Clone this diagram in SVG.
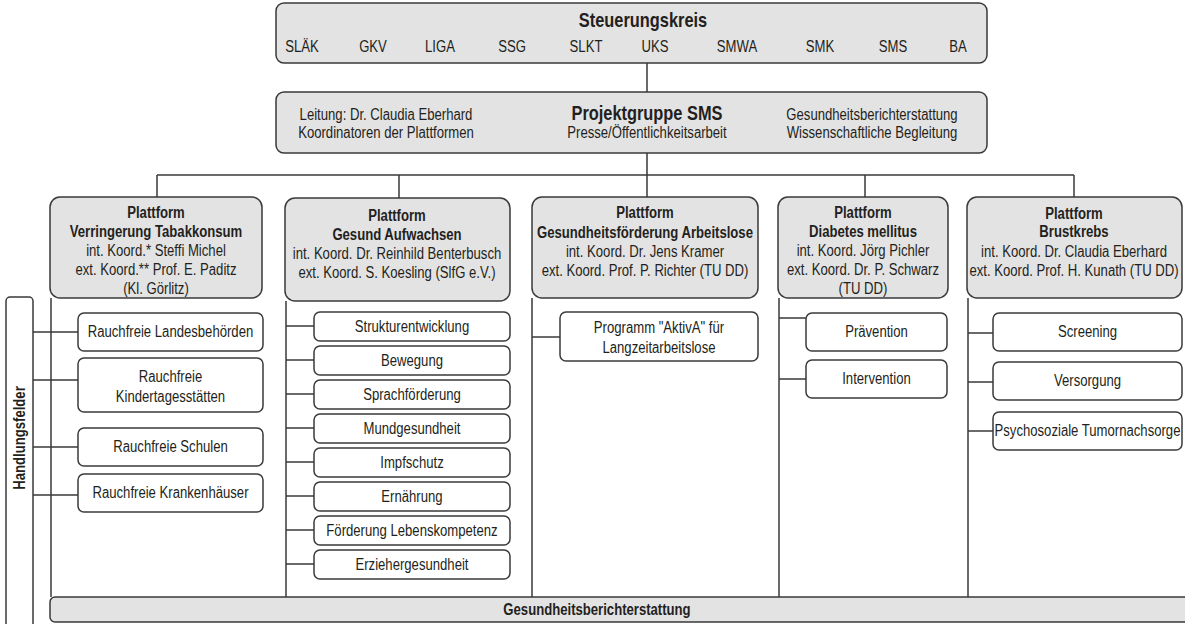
<svg xmlns="http://www.w3.org/2000/svg" width="1185" height="624" viewBox="0 0 1185 624">
<style>
.box{fill:#e3e3e3;stroke:#3a3a3a;stroke-width:1.5}
.sub{fill:#fff;stroke:#3a3a3a;stroke-width:1.5}
.t{font-family:"Liberation Sans",Arial,sans-serif;font-size:16px;fill:#231f20;text-anchor:middle}
.n{transform:scale(0.82,1)}
.b{font-weight:bold}
.big{font-size:20px}
.ln{stroke:#3a3a3a;stroke-width:1.5;fill:none}
</style>
<rect width="1185" height="624" fill="#fff"/>
<g id="connectors">
<path class="ln" d="M647 63V92M647 153V175M157 175H1074M157 175V197M399 175V198M647 175V197M865 175V197M1074 175V197"/>
<path class="ln" d="M51 298V597M286 301V597M532 298V597M779 298V597M968 298V597"/>
<path class="ln" d="M33 332H78M33 380H78M33 447H78M33 495H78"/>
<path class="ln" d="M286 326H314M286 360H314M286 394H314M286 428H314M286 462H314M286 496H314M286 530H314M286 564H314"/>
<path class="ln" d="M532 337H560"/>
<path class="ln" d="M779 318H806M779 379H806"/>
<path class="ln" d="M968 333H993M968 382H993M968 431H993"/>
</g>
<g id="steuerungskreis">
<rect class="box" x="276" y="3" width="711" height="60" rx="8"/>
<text class="t n b big" x="784.15" y="27">Steuerungskreis</text>
<text class="t n" y="52"><tspan x="368.29">SLÄK</tspan><tspan x="454.88">GKV</tspan><tspan x="536.59">LIGA</tspan><tspan x="624.39">SSG</tspan><tspan x="714.63">SLKT</tspan><tspan x="798.78">UKS</tspan><tspan x="898.78">SMWA</tspan><tspan x="1000">SMK</tspan><tspan x="1089.02">SMS</tspan><tspan x="1168.29">BA</tspan></text>
</g>
<g id="projektgruppe">
<rect class="box" x="276" y="92" width="711" height="61" rx="8"/>
<text class="t n" x="470.73" y="120">Leitung: Dr. Claudia Eberhard</text>
<text class="t n" x="470.73" y="138">Koordinatoren der Plattformen</text>
<text class="t n b big" x="789.02" y="120">Projektgruppe SMS</text>
<text class="t n" x="789.02" y="138">Presse/Öffentlichkeitsarbeit</text>
<text class="t n" x="1063.41" y="120">Gesundheitsberichterstattung</text>
<text class="t n" x="1063.41" y="138">Wissenschaftliche Begleitung</text>
</g>
<g id="plattform-tabak">
<rect class="box" x="50" y="197" width="212" height="101" rx="10"/>
<text class="t n b" x="190.24" y="218">Plattform</text>
<text class="t n b" x="190.24" y="237">Verringerung Tabakkonsum</text>
<text class="t n" x="190.24" y="256">int. Koord.* Steffi Michel</text>
<text class="t n" x="190.24" y="275">ext. Koord.** Prof. E. Paditz</text>
<text class="t n" x="190.24" y="294">(Kl. Görlitz)</text>
</g>
<g id="plattform-aufwachsen">
<rect class="box" x="285" y="198" width="225" height="103" rx="10"/>
<text class="t n b" x="484.15" y="221">Plattform</text>
<text class="t n b" x="484.15" y="240">Gesund Aufwachsen</text>
<text class="t n" x="484.15" y="259">int. Koord. Dr. Reinhild Benterbusch</text>
<text class="t n" x="484.15" y="278">ext. Koord. S. Koesling (SlfG e.V.)</text>
</g>
<g id="plattform-arbeitslose">
<rect class="box" x="532" y="197" width="226" height="101" rx="10"/>
<text class="t n b" x="786.59" y="218">Plattform</text>
<text class="t n b" x="786.59" y="238">Gesundheitsförderung Arbeitslose</text>
<text class="t n" x="786.59" y="257">int. Koord. Dr. Jens Kramer</text>
<text class="t n" x="786.59" y="276">ext. Koord. Prof. P. Richter (TU DD)</text>
</g>
<g id="plattform-diabetes">
<rect class="box" x="778" y="197" width="170" height="101" rx="10"/>
<text class="t n b" x="1052.44" y="218">Plattform</text>
<text class="t n b" x="1052.44" y="237">Diabetes mellitus</text>
<text class="t n" x="1052.44" y="256">int. Koord. Jörg Pichler</text>
<text class="t n" x="1052.44" y="275">ext. Koord. Dr. P. Schwarz</text>
<text class="t n" x="1052.44" y="294">(TU DD)</text>
</g>
<g id="plattform-brustkrebs">
<rect class="box" x="967" y="197" width="215" height="101" rx="10"/>
<text class="t n b" x="1309.76" y="219">Plattform</text>
<text class="t n b" x="1309.76" y="237">Brustkrebs</text>
<text class="t n" x="1309.76" y="257">int. Koord. Dr. Claudia Eberhard</text>
<text class="t n" x="1309.76" y="276">ext. Koord. Prof. H. Kunath (TU DD)</text>
</g>
<g id="handlungsfelder">
<rect x="6" y="297" width="27" height="345" rx="4" fill="#fff" stroke="#3a3a3a" stroke-width="1.5"/>
<text class="t b" transform="translate(25 438) rotate(-90) scale(0.82 1)">Handlungsfelder</text>
</g>
<g id="tabak-felder">
<rect class="sub" x="78" y="313" width="185" height="38" rx="6"/>
<text class="t n" x="207.93" y="337.5">Rauchfreie Landesbehörden</text>
<rect class="sub" x="78" y="358" width="185" height="54" rx="6"/>
<text class="t n" x="207.93" y="382">Rauchfreie</text>
<text class="t n" x="207.93" y="402">Kindertagesstätten</text>
<rect class="sub" x="78" y="428" width="185" height="38" rx="6"/>
<text class="t n" x="207.93" y="452">Rauchfreie Schulen</text>
<rect class="sub" x="78" y="474" width="185" height="38" rx="6"/>
<text class="t n" x="207.93" y="498">Rauchfreie Krankenhäuser</text>
</g>
<g id="aufwachsen-felder">
<rect class="sub" x="314" y="312" width="196" height="29" rx="6"/>
<text class="t n" x="502.44" y="332">Strukturentwicklung</text>
<rect class="sub" x="314" y="346" width="196" height="29" rx="6"/>
<text class="t n" x="502.44" y="366">Bewegung</text>
<rect class="sub" x="314" y="380" width="196" height="29" rx="6"/>
<text class="t n" x="502.44" y="400">Sprachförderung</text>
<rect class="sub" x="314" y="414" width="196" height="29" rx="6"/>
<text class="t n" x="502.44" y="434">Mundgesundheit</text>
<rect class="sub" x="314" y="448" width="196" height="29" rx="6"/>
<text class="t n" x="502.44" y="468">Impfschutz</text>
<rect class="sub" x="314" y="482" width="196" height="29" rx="6"/>
<text class="t n" x="502.44" y="502">Ernährung</text>
<rect class="sub" x="314" y="516" width="196" height="29" rx="6"/>
<text class="t n" x="502.44" y="536">Förderung Lebenskompetenz</text>
<rect class="sub" x="314" y="550" width="196" height="29" rx="6"/>
<text class="t n" x="502.44" y="570">Erziehergesundheit</text>
</g>
<g id="arbeitslose-felder">
<rect class="sub" x="560" y="312" width="198" height="49" rx="6"/>
<text class="t n" x="803.66" y="333">Programm "AktivA" für</text>
<text class="t n" x="803.66" y="353">Langzeitarbeitslose</text>
</g>
<g id="diabetes-felder">
<rect class="sub" x="806" y="313" width="141" height="38" rx="6"/>
<text class="t n" x="1068.9" y="337">Prävention</text>
<rect class="sub" x="806" y="360" width="141" height="38" rx="6"/>
<text class="t n" x="1068.9" y="384">Intervention</text>
</g>
<g id="brustkrebs-felder">
<rect class="sub" x="993" y="313" width="189" height="38" rx="6"/>
<text class="t n" x="1326.22" y="337">Screening</text>
<rect class="sub" x="993" y="362" width="189" height="38" rx="6"/>
<text class="t n" x="1326.22" y="386">Versorgung</text>
<rect class="sub" x="993" y="412" width="189" height="38" rx="6"/>
<text class="t n" x="1326.22" y="436">Psychosoziale Tumornachsorge</text>
</g>
<g id="gesundheitsberichterstattung">
<rect class="box" x="50" y="597" width="1145" height="25" rx="5"/>
<text class="t n b" x="728.05" y="615">Gesundheitsberichterstattung</text>
</g>
</svg>
